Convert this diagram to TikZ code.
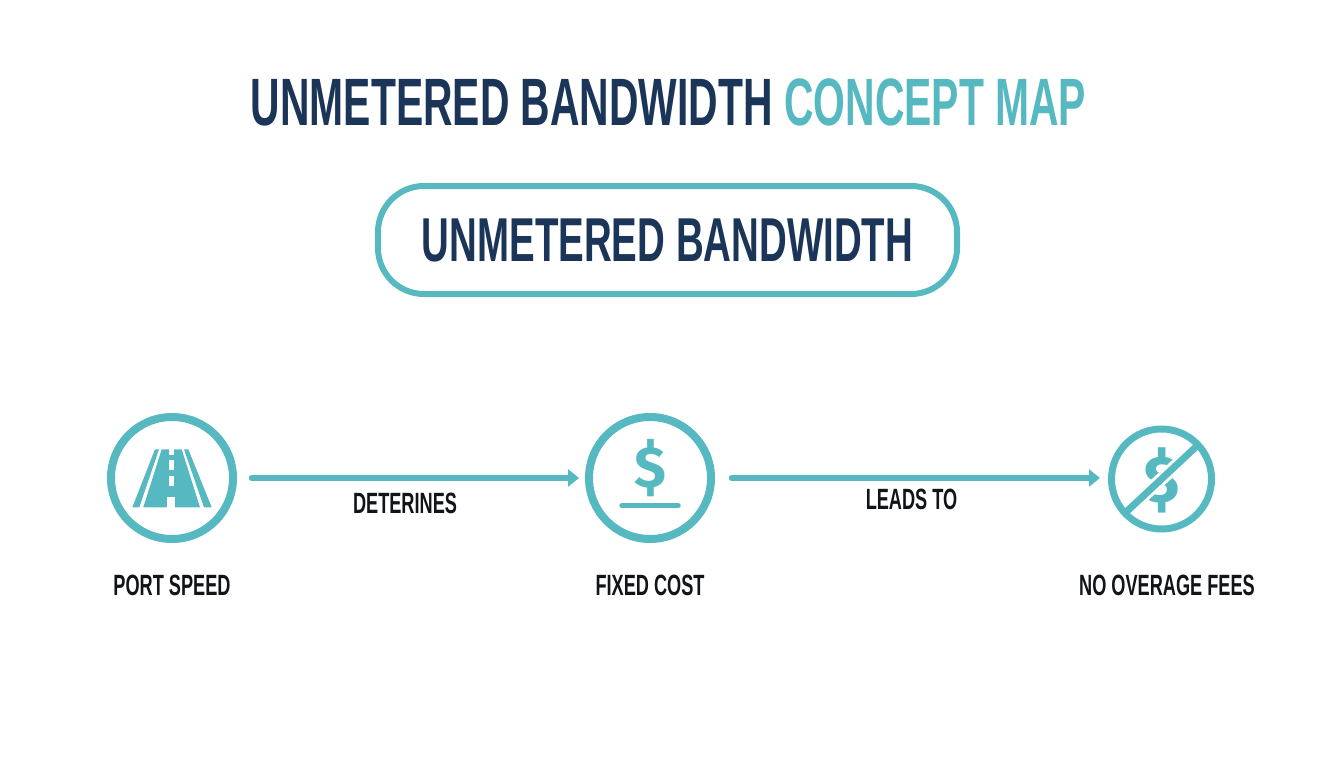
\documentclass[tikz,border=0pt]{standalone}
\usepackage{fontspec}
\usetikzlibrary{arrows.meta}
\newfontfamily\narrowfont[FakeStretch=0.61]{Liberation Sans Bold}
\newfontfamily\labelfont[FakeStretch=0.62]{Liberation Sans Bold}
\newfontfamily\pricefont{Fira Sans Bold}
\definecolor{tealline}{HTML}{56B9C1}
\definecolor{navytext}{HTML}{1A3557}
\definecolor{inktext}{HTML}{111418}
\tikzset{
    hub/.style={draw=tealline, line width=8pt, circle, minimum size=122pt, inner sep=0pt},
    smallhub/.style={draw=tealline, line width=7pt, circle, minimum size=100pt, inner sep=0pt},
    caption/.style={text=inktext, font=\labelfont\fontsize{29.3}{29.3}\selectfont, inner sep=0pt},
    flow/.style={draw=tealline, line width=5.5pt, line cap=round, -{Triangle[length=11pt,width=17pt]}},
}
\begin{document}
\begin{tikzpicture}[x=1pt, y=-1pt]
    \useasboundingbox (0,0) rectangle (1344,768);
    \node[inner sep=0pt, font=\narrowfont\fontsize{67}{67}\selectfont] (title) at (668.5,102)
      {\textcolor{navytext}{UNMETERED BANDWIDTH} \textcolor{tealline}{CONCEPT MAP}};
    \node[draw=tealline, line width=6pt, rounded corners=46pt, minimum width=579pt, minimum height=108pt,
      text=navytext, font=\labelfont\fontsize{62}{62}\selectfont] (main) at (667.5,240) {UNMETERED BANDWIDTH};

    \node[hub, label={[caption, label distance=32pt]below:PORT SPEED}] (port) at (172,478) {};
    \node[hub, label={[caption, label distance=32pt]below:FIXED COST}] (fixed) at (650,478) {};
    \node[smallhub, label={[caption, label distance=42pt, xshift=5.5pt]below:NO OVERAGE FEES}] (fees) at (1161.5,479) {};

    % road
    \fill[tealline] (155,449.3) -- (159,449.3) -- (139.3,507.3) -- (132.3,507.3) -- cycle;
    \fill[tealline] (184,449.3) -- (188.3,449.3) -- (211.7,507.3) -- (204,507.3) -- cycle;
    \fill[tealline] (161.7,449.3) -- (181.7,449.3) -- (200,507.3) -- (143.3,507.3) -- cycle;
    \fill[white] (169.2,449) rectangle (173.8,455);
    \fill[white] (169.2,460) rectangle (173.8,469.5);
    \fill[white] (169.2,476) rectangle (173.8,486);
    \fill[white] (167.3,496.7) rectangle (175.3,507.5);

    % fixed price
    \node[text=tealline, inner sep=0pt, font=\pricefont\fontsize{58}{58}\selectfont] (price) at (650,468) {\$};
    \draw[tealline, line width=5.5pt, line cap=round] (622,505.7) -- (678,505.7);

    % crossed price
    \node[text=tealline, inner sep=0pt, font=\pricefont\fontsize{66}{66}\selectfont] (nofee) at (1162,480) {\$};
    \draw[white, line width=13pt, shorten <=8pt, shorten >=8pt] (fees.223) -- (fees.43);
    \draw[tealline, line width=7pt, shorten <=3pt, shorten >=3pt] (fees.223) -- (fees.43);

    \draw[flow, shorten <=14.5pt, shorten >=6pt] (port) -- (fixed)
      node[caption, pos=0.5, xshift=-6pt, yshift=-25pt] (det) {DETERINES};
    \draw[flow, shorten <=16.5pt, shorten >=8pt] (fixed) -- (fixed -| fees.west)
      node[caption, pos=0.5, yshift=-21pt] (leads) {LEADS TO};
\end{tikzpicture}
\end{document}
